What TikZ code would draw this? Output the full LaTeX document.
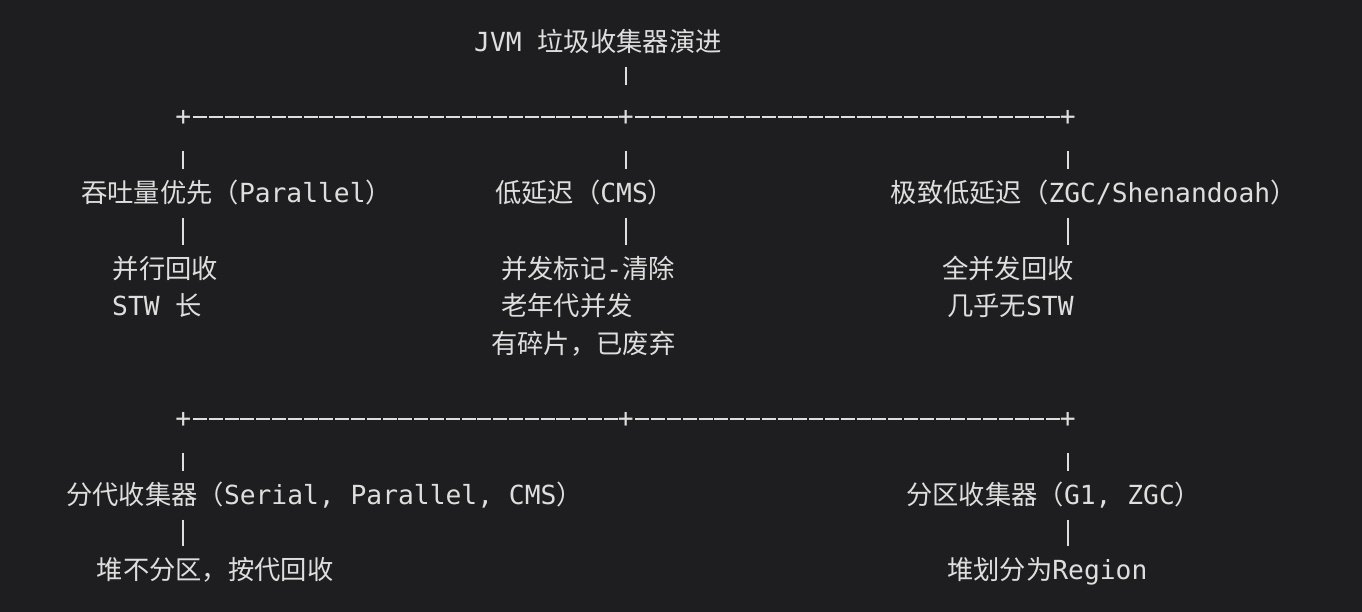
\documentclass[tikz,border=0pt]{standalone}
\usepackage{fontspec}
\setmonofont{DejaVu Sans Mono}
\newfontfamily\cjk{Noto Sans CJK SC}
\definecolor{bgdark}{RGB}{30,30,33}
\definecolor{fgtext}{RGB}{222,222,222}
\tikzset{
 txt/.style={anchor=west, inner sep=0pt, text height=20pt, text depth=0pt, text=fgtext, font=\ttfamily\fontsize{26.3}{30}\selectfont},
 jn/.style={txt, anchor=center, text height=16.8pt},
 bar/.style={draw=fgtext, line width=2.1pt, shorten <=25.3pt, shorten >=23.4pt},
 dashln/.style={draw=fgtext, line width=2.1pt, dash pattern=on 14pt off 1.8pt, dash phase=14.3pt},
}

\begin{document}
\begin{tikzpicture}[x=1pt,y=-1pt]
\fill[bgdark] (0,0) rectangle (1362,612);
\useasboundingbox (0,0) rectangle (1362,612);

% title and upper split
\node[txt] (jvm) at (474,42) {JVM {\cjk 垃圾收集器演进}};
\node[jn] (j1) at (183.3,117.4) {+};
\node[jn] (j2) at (625.7,117.4) {+};
\node[jn] (j3) at (1067.7,117.4) {+};
\draw[dashln] (j1.east) -- (j2.west);
\draw[dashln] (j2.east) -- (j3.west);
\draw[bar] (j2 |- jvm) -- (j2);

% goals
\node[txt] (thru) at (81,192.8) {{\cjk 吞吐量优先（}Parallel{\cjk ）}};
\node[txt] (cms) at (495,192.8) {{\cjk 低延迟（}CMS{\cjk ）}};
\node[txt] (zgc) at (890.5,192.8) {{\cjk 极致低延迟（}ZGC/Shenandoah{\cjk ）}};
\node[txt] (thruA) at (112.5,268.2) {{\cjk 并行回收}};
\node[txt] (thruB) at (112,305.9) {STW {\cjk 长}};
\node[txt] (cmsA) at (501,268.2) {{\cjk 并发标记}-{\cjk 清除}};
\node[txt] (cmsB) at (501,305.9) {{\cjk 老年代并发}};
\node[txt] (cmsC) at (491,343.6) {{\cjk 有碎片，已废弃}};
\node[txt] (zgcA) at (942,268.2) {{\cjk 全并发回收}};
\node[txt] (zgcB) at (947,305.9) {{\cjk 几乎无}STW};
\foreach \j/\h/\i in {j1/thru/thruA, j2/cms/cmsA, j3/zgc/zgcA} {
 \draw[bar] (\j) -- (\j |- \h);
 \draw[bar] (\j |- \h) -- (\j |- \i);
}

% heap layout
\node[jn] (k1) at (183.3,419) {+};
\node[jn] (k2) at (625.7,419) {+};
\node[jn] (k3) at (1067.7,419) {+};
\draw[dashln] (k1.east) -- (k2.west);
\draw[dashln] (k2.east) -- (k3.west);
\node[txt] (gen) at (66,494.4) {{\cjk 分代收集器（}Serial, Parallel, CMS{\cjk ）}};
\node[txt] (reg) at (906,494.4) {{\cjk 分区收集器（}G1, ZGC{\cjk ）}};
\node[txt] (genA) at (96.5,569.8) {{\cjk 堆不分区，按代回收}};
\node[txt] (regA) at (947,569.8) {{\cjk 堆划分为}Region};
\foreach \j/\h/\i in {k1/gen/genA, k3/reg/regA} {
 \draw[bar] (\j) -- (\j |- \h);
 \draw[bar] (\j |- \h) -- (\j |- \i);
}
\end{tikzpicture}
\end{document}
